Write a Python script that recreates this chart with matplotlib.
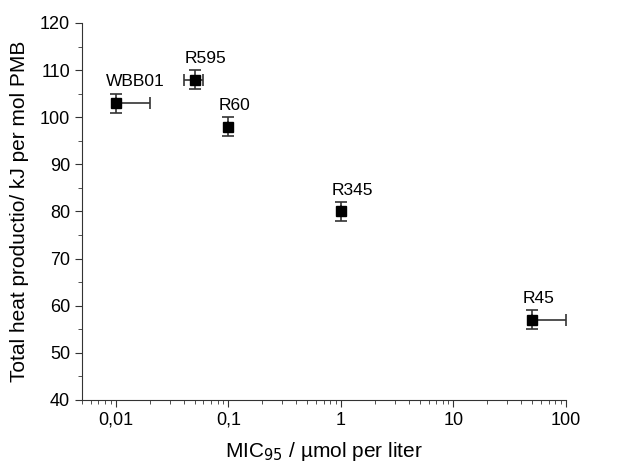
import matplotlib
matplotlib.use('Agg')
import matplotlib.pyplot as plt
from matplotlib.ticker import FixedLocator, FixedFormatter, LogLocator, NullFormatter, MultipleLocator
import numpy as np

plt.rcParams['font.family'] = ['Liberation Sans', 'DejaVu Sans']
plt.rcParams.update({'font.size': 13})

# data
names = ['WBB01', 'R595', 'R60', 'R345', 'R45']
mic = [0.01, 0.05, 0.1, 1, 50]
heat = [103, 108, 98, 80, 57]
xerr_lo = [0.0, 0.01, 0.0, 0.0, 0.0]
xerr_hi = [0.01, 0.01, 0.0, 0.0, 50]
yerr = [2, 2, 2, 2, 2]

xticks = [0.01, 0.1, 1, 10, 100]
xticklabels = ['0,01', '0,1', '1', '10', '100']

fig = plt.figure(figsize=(6.4, 4.68), dpi=100)
ax = fig.add_axes([82/640, 68/468, 484/640, 377/468])

ax.errorbar(mic, heat, xerr=[xerr_lo, xerr_hi], yerr=yerr, fmt='s',
            color='black', ecolor='#333333', elinewidth=1.2, capsize=4,
            capthick=1.2, markersize=7)

for n, x, y in zip(names, mic, heat):
    ax.annotate(n, (x, y), xytext=(-7, 10), textcoords='offset points',
                ha='left', va='bottom', fontsize=12.5)

ax.set_xscale('log')
ax.set_xlim(0.005, 100)
ax.set_ylim(40, 120)
ax.xaxis.set_major_locator(FixedLocator(xticks))
ax.xaxis.set_major_formatter(FixedFormatter(xticklabels))
ax.xaxis.set_minor_locator(LogLocator(base=10, subs=np.arange(2, 10)))
ax.xaxis.set_minor_formatter(NullFormatter())
ax.yaxis.set_major_locator(MultipleLocator(10))
ax.yaxis.set_minor_locator(MultipleLocator(5))

for s in ['top', 'right']:
    ax.spines[s].set_visible(False)
for s in ['left', 'bottom']:
    ax.spines[s].set_color('#333333')
ax.tick_params(which='major', direction='out', length=5, color='#333333', labelsize=13)
ax.tick_params(which='minor', direction='out', length=3, color='#333333')

ax.set_xlabel('MIC$_{95}$ / µmol per liter', fontsize=15, labelpad=8)
ax.set_ylabel('Total heat productio/ kJ per mol PMB', fontsize=15, labelpad=8)

plt.savefig('out.png', dpi=100)
